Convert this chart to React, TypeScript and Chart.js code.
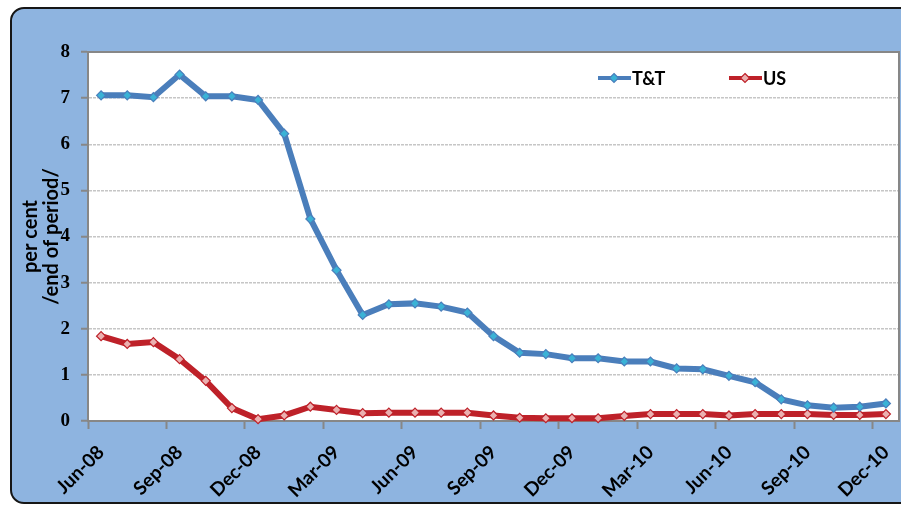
import React, { useEffect, useRef } from "react";
import { Chart, registerables } from "chart.js";

Chart.register(...registerables);

const months: string[] = [
  "Jun-08", "Jul-08", "Aug-08", "Sep-08", "Oct-08", "Nov-08", "Dec-08",
  "Jan-09", "Feb-09", "Mar-09", "Apr-09", "May-09", "Jun-09", "Jul-09", "Aug-09", "Sep-09", "Oct-09", "Nov-09", "Dec-09",
  "Jan-10", "Feb-10", "Mar-10", "Apr-10", "May-10", "Jun-10", "Jul-10", "Aug-10", "Sep-10", "Oct-10", "Nov-10", "Dec-10",
];

const ttValues: number[] = [
  7.06, 7.06, 7.02, 7.51, 7.04, 7.04, 6.96,
  6.23, 4.38, 3.27, 2.30, 2.53, 2.55, 2.48, 2.35, 1.84, 1.48, 1.45, 1.36,
  1.36, 1.29, 1.29, 1.14, 1.12, 0.98, 0.84, 0.47, 0.34, 0.29, 0.31, 0.38,
];

const usValues: number[] = [
  1.84, 1.67, 1.71, 1.34, 0.87, 0.28, 0.04,
  0.12, 0.31, 0.24, 0.17, 0.18, 0.18, 0.18, 0.18, 0.12, 0.07, 0.06, 0.06,
  0.06, 0.11, 0.15, 0.15, 0.15, 0.12, 0.15, 0.15, 0.15, 0.13, 0.13, 0.15,
];

const seriesNames: string[] = ["T&T", "US"];
const yTitle: string[] = ["per cent", "/end of period/"];

const TT_LINE = "#4A7EBB";
const TT_POINT = "#3AB2D6";
const US_LINE = "#BE2129";
const US_POINT = "#EBB0B0";
const FRAME = "#878787";
const GRID = "#C6C6C6";

const framePlugin = {
  id: "frame",
  beforeDraw(chart: any) {
    const { ctx, chartArea: a } = chart;
    ctx.save();
    ctx.fillStyle = "#FFFFFF";
    ctx.fillRect(a.left, a.top, a.right - a.left, a.bottom - a.top);
    ctx.restore();
  },
  beforeDatasetsDraw(chart: any) {
    const { ctx, chartArea: a } = chart;
    ctx.save();
    ctx.strokeStyle = FRAME;
    ctx.lineWidth = 2;
    ctx.beginPath();
    ctx.moveTo(a.left, a.top);
    ctx.lineTo(a.right, a.top);
    ctx.lineTo(a.right, a.bottom);
    ctx.stroke();
    ctx.restore();
  },
};

const legendPlugin = {
  id: "customLegend",
  afterDatasetsDraw(chart: any) {
    const { ctx } = chart;
    const starts = [598, 729];
    const y = 78;
    chart.data.datasets.forEach((ds: any, i: number) => {
      const x0 = starts[i];
      ctx.save();
      ctx.strokeStyle = ds.borderColor;
      ctx.lineWidth = 4;
      ctx.beginPath();
      ctx.moveTo(x0, y);
      ctx.lineTo(x0 + 33, y);
      ctx.stroke();
      const cx = x0 + 16;
      const r = 4.5;
      ctx.beginPath();
      ctx.moveTo(cx, y - r);
      ctx.lineTo(cx + r, y);
      ctx.lineTo(cx, y + r);
      ctx.lineTo(cx - r, y);
      ctx.closePath();
      ctx.fillStyle = ds.pointBackgroundColor;
      ctx.fill();
      ctx.lineWidth = 1.2;
      ctx.strokeStyle = ds.pointBorderColor;
      ctx.stroke();
      ctx.fillStyle = "#000000";
      ctx.font = "bold 18px Lato";
      ctx.textAlign = "left";
      ctx.textBaseline = "middle";
      ctx.fillText(ds.label, x0 + 34, y + 1);
      ctx.restore();
    });
  },
};

export default function App() {
  const canvasRef = useRef<HTMLCanvasElement | null>(null);

  useEffect(() => {
    const canvas = canvasRef.current;
    if (!canvas) return;
    const chart = new Chart(canvas, {
      type: "line",
      data: {
        labels: months,
        datasets: [
          {
            label: seriesNames[0],
            data: ttValues,
            borderColor: TT_LINE,
            borderWidth: 6,
            pointStyle: "rectRot",
            pointRadius: 4.5,
            pointBackgroundColor: TT_POINT,
            pointBorderColor: TT_LINE,
            pointBorderWidth: 1.2,
            tension: 0,
            clip: false,
          } as any,
          {
            label: seriesNames[1],
            data: usValues,
            borderColor: US_LINE,
            borderWidth: 6,
            pointStyle: "rectRot",
            pointRadius: 4.5,
            pointBackgroundColor: US_POINT,
            pointBorderColor: US_LINE,
            pointBorderWidth: 1.2,
            tension: 0,
            clip: false,
          } as any,
        ],
      },
      options: {
        animation: false,
        responsive: false,
        maintainAspectRatio: false,
        events: [],
        layout: { autoPadding: false, padding: { left: 10, top: 52, right: 2, bottom: 0 } },
        plugins: {
          legend: { display: false },
          tooltip: { enabled: false },
        },
        scales: {
          x: {
            type: "category",
            offset: true,
            afterFit: (scale: any) => {
              scale.height = 87;
              scale.paddingLeft = 0;
              scale.paddingRight = 0;
            },
            grid: {
              offset: true,
              drawOnChartArea: false,
              drawTicks: true,
              tickLength: 8,
              tickWidth: 2,
              tickColor: (ctx: any) =>
                typeof ctx.index === "number" && ctx.index % 3 === 0 ? FRAME : "rgba(0,0,0,0)",
            },
            border: { display: true, color: FRAME, width: 2 },
            ticks: {
              autoSkip: false,
              maxRotation: 45,
              minRotation: 45,
              padding: 12,
              color: "#000000",
              font: { family: "Lato", weight: "bold", size: 19 },
              callback: (_v: any, i: number) => (i % 3 === 0 ? months[i] : ""),
            },
          },
          y: {
            min: 0,
            max: 8,
            afterFit: (scale: any) => {
              scale.width = 78;
            },
            grid: {
              color: (ctx: any) => (ctx.tick && ctx.tick.value === 0 ? "rgba(0,0,0,0)" : GRID),
              lineWidth: 1.5,
              drawTicks: true,
              tickLength: 7,
              tickColor: FRAME,
              tickWidth: 2,
              tickBorderDash: [],
            },
            border: { display: true, color: FRAME, width: 2, dash: [3, 1] },
            ticks: {
              stepSize: 1,
              padding: 11,
              color: "#000000",
              font: { family: "Liberation Serif", weight: "bold", size: 19 },
            },
            title: {
              display: true,
              text: yTitle,
              color: "#000000",
              padding: { top: 10, bottom: 0 },
              font: { family: "Lato", weight: "bold", size: 20, lineHeight: 1.05 },
            },
          },
        },
      },
      plugins: [framePlugin, legendPlugin],
    });
    return () => chart.destroy();
  }, []);

  return (
    <div
      style={{
        position: "fixed",
        left: 0,
        top: 0,
        width: 901,
        height: 508,
        overflow: "hidden",
        background: "#FFFFFF",
      }}
    >
      <div
        style={{
          position: "absolute",
          left: 10,
          top: 7,
          width: 940,
          height: 497,
          boxSizing: "border-box",
          border: "2px solid #161616",
          borderRadius: 14,
          background: "#8EB4E0",
        }}
      />
      <canvas
        ref={canvasRef}
        width={901}
        height={508}
        style={{ position: "absolute", left: 0, top: 0, width: 901, height: 508 }}
      />
    </div>
  );
}
